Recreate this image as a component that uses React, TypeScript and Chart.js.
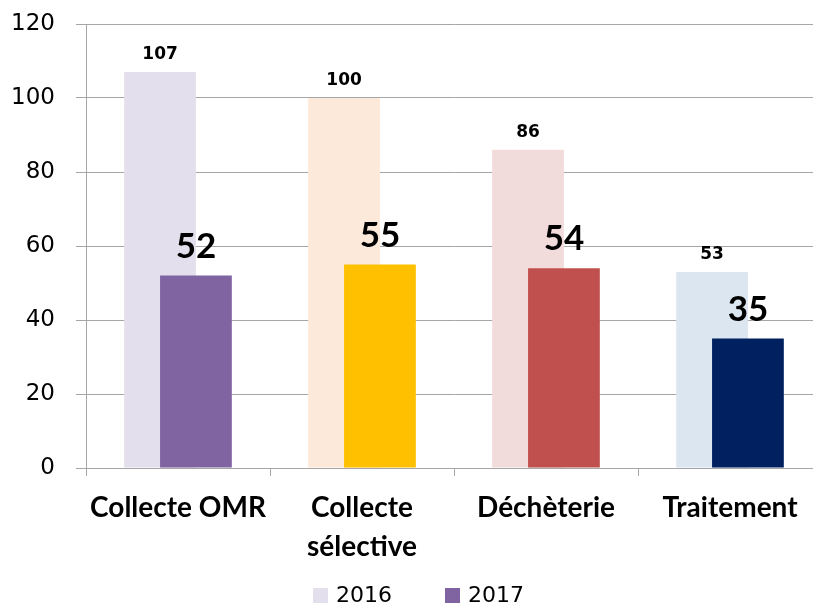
import React, { useEffect, useRef } from 'react';
import { Chart, registerables } from 'chart.js';

Chart.register(...registerables);

const categories: (string | string[])[] = ['Collecte OMR', ['Collecte', 'sélective'], 'Déchèterie', 'Traitement'];
const seriesNames = ['2016', '2017'];
const values2016 = [107, 100, 86, 53];
const values2017 = [52, 55, 54, 35];
const colors2016 = ['#E4DFEC', '#FDE9D9', '#F2DCDB', '#DCE6F1'];
const colors2017 = ['#8064A2', '#FFC000', '#C0504D', '#002060'];
const yMin = 0;
const yMax = 120;
const yStep = 20;

const GRID = '#A6A6A6';
const TEXT = '#000000';

const orderPlugin = {
  id: 'drawOrder',
  beforeDatasetDraw() {
    return false;
  },
  afterDatasetsDraw(chart: any) {
    for (let i = 0; i < chart.data.datasets.length; i++) {
      const meta = chart.getDatasetMeta(i);
      if (!meta.hidden) meta.controller.draw();
    }
  },
};

const labelFonts = ['bold 17px "DejaVu Sans"', 'bold 35px Lato'];
const labelGaps = [13, 18];

const valueLabelPlugin = {
  id: 'valueLabels',
  afterDatasetsDraw(chart: any) {
    const ctx = chart.ctx;
    ctx.save();
    ctx.fillStyle = TEXT;
    ctx.textAlign = 'center';
    ctx.textBaseline = 'alphabetic';
    chart.data.datasets.forEach((ds: any, i: number) => {
      const meta = chart.getDatasetMeta(i);
      ctx.font = labelFonts[i];
      meta.data.forEach((el: any, j: number) => {
        ctx.fillText(String(ds.data[j]), el.x, el.y - labelGaps[i]);
      });
    });
    ctx.restore();
  },
};

const legendPlugin = {
  id: 'customLegend',
  afterDraw(chart: any) {
    const ctx = chart.ctx;
    ctx.save();
    ctx.font = '22px "DejaVu Sans"';
    ctx.textBaseline = 'middle';
    ctx.textAlign = 'left';
    const swatches = [colors2016[0], colors2017[0]];
    seriesNames.forEach((name, i) => {
      const x = 313 + i * 132;
      ctx.fillStyle = swatches[i];
      ctx.fillRect(x, 588, 15, 15);
      ctx.fillStyle = TEXT;
      ctx.fillText(name, x + 23, 596);
    });
    ctx.restore();
  },
};

export default function App() {
  const ref = useRef<HTMLCanvasElement>(null);
  useEffect(() => {
    if (!ref.current) return;
    const chart = new Chart(ref.current, {
      type: 'bar',
      data: {
        labels: categories,
        datasets: [
          {
            label: seriesNames[0],
            data: values2016,
            backgroundColor: colors2016,
            categoryPercentage: 0.39,
            barPercentage: 2,
          },
          {
            label: seriesNames[1],
            data: values2017,
            backgroundColor: colors2017,
            categoryPercentage: 0.39,
            barPercentage: 2,
          },
        ],
      },
      options: {
        responsive: false,
        animation: false,
        devicePixelRatio: 1,
        layout: { padding: { top: 24, right: 1, left: 0, bottom: 0 } },
        plugins: {
          legend: { display: false },
          tooltip: { enabled: false },
        },
        scales: {
          x: {
            grid: { drawOnChartArea: false, drawTicks: true, tickLength: 8, color: GRID, offset: true },
            border: { color: GRID },
            ticks: {
              color: TEXT,
              font: { family: 'Lato', weight: 'bold', size: 28, lineHeight: 39 / 28 },
              padding: 12,
              maxRotation: 0,
              autoSkip: false,
            },
            afterFit: (s: any) => {
              s.height = 137;
            },
          },
          y: {
            min: yMin,
            max: yMax,
            ticks: {
              stepSize: yStep,
              color: TEXT,
              font: { family: 'DejaVu Sans', size: 23 },
              padding: 21,
            },
            grid: { color: GRID, tickLength: 10 },
            border: { color: GRID },
            afterFit: (s: any) => {
              s.width = 86;
              s.paddingTop = 0;
              s.paddingBottom = 0;
            },
          },
        },
      },
      plugins: [orderPlugin, valueLabelPlugin, legendPlugin],
    } as any);
    return () => chart.destroy();
  }, []);

  return (
    <div style={{ position: 'absolute', left: 0, top: 0, width: 813, height: 605, overflow: 'hidden', background: '#fff' }}>
      <canvas ref={ref} width={823} height={605} style={{ display: 'block', width: 823, height: 605 }} />
    </div>
  );
}
